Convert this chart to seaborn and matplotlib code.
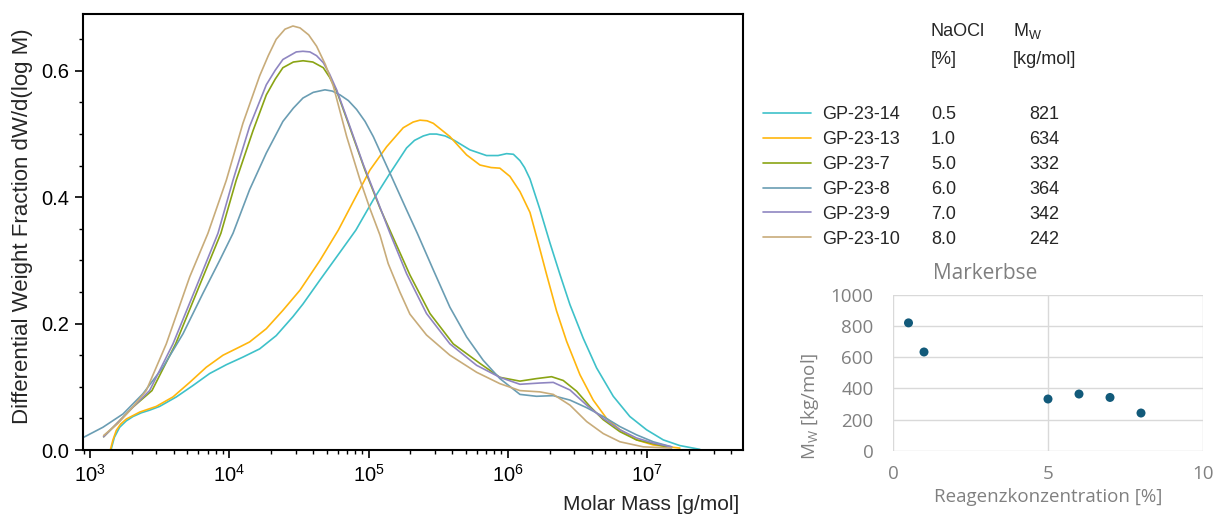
import numpy as np
import pandas as pd
import matplotlib
matplotlib.use("Agg")
import matplotlib.pyplot as plt
import seaborn as sns
from matplotlib.ticker import LogLocator, MultipleLocator, FixedLocator, NullFormatter

# ---------------- data ----------------
samples = ["GP-23-14", "GP-23-13", "GP-23-7", "GP-23-8", "GP-23-9", "GP-23-10"]
naocl_pct = [0.5, 1.0, 5.0, 6.0, 7.0, 8.0]
mw_kg_mol = [821, 634, 332, 364, 342, 242]
colors = ["#3ec1c9", "#ffb60d", "#8aa414", "#6a9db3", "#8f86c1", "#c8ac7a"]

# log10(M [g/mol]) and dW/d(log M)
logm_gp14 = [3.153, 3.175, 3.213, 3.260, 3.309, 3.370, 3.428, 3.500, 3.620, 3.739, 3.859, 3.979,
             4.098, 4.218, 4.337, 4.457, 4.529, 4.651, 4.795, 4.909, 5.034, 5.154, 5.273, 5.330,
             5.393, 5.440, 5.488, 5.550, 5.608, 5.728, 5.847, 5.930, 5.991, 6.040, 6.087, 6.120,
             6.159, 6.230, 6.302, 6.374, 6.446, 6.541, 6.637, 6.757, 6.876, 6.996, 7.116, 7.235,
             7.379]
w_gp14 = [0.002, 0.020, 0.036, 0.046, 0.053, 0.059, 0.063, 0.069, 0.084, 0.102, 0.121, 0.135,
          0.147, 0.160, 0.181, 0.211, 0.231, 0.269, 0.313, 0.348, 0.396, 0.438, 0.478, 0.490,
          0.497, 0.500, 0.500, 0.497, 0.491, 0.475, 0.466, 0.466, 0.469, 0.468, 0.458, 0.447,
          0.429, 0.381, 0.328, 0.278, 0.230, 0.177, 0.130, 0.085, 0.053, 0.032, 0.016, 0.007,
          0.001]

logm_gp13 = [3.146, 3.165, 3.189, 3.220, 3.261, 3.357, 3.476, 3.596, 3.716, 3.835, 3.955, 4.074,
             4.146, 4.266, 4.385, 4.508, 4.651, 4.783, 4.890, 5.010, 5.130, 5.249, 5.320, 5.369,
             5.420, 5.465, 5.584, 5.704, 5.800, 5.880, 5.943, 6.015, 6.087, 6.159, 6.218, 6.278,
             6.350, 6.422, 6.518, 6.613, 6.709, 6.805, 6.924, 7.044, 7.235]
w_gp13 = [0.000, 0.016, 0.031, 0.041, 0.049, 0.060, 0.069, 0.084, 0.107, 0.131, 0.150, 0.163,
          0.171, 0.192, 0.221, 0.253, 0.300, 0.348, 0.393, 0.443, 0.480, 0.510, 0.519, 0.522,
          0.521, 0.517, 0.496, 0.467, 0.451, 0.447, 0.446, 0.433, 0.409, 0.376, 0.328, 0.278,
          0.220, 0.172, 0.119, 0.079, 0.050, 0.032, 0.016, 0.008, 0.003]

logm_gp7 = [3.098, 3.189, 3.309, 3.445, 3.615, 3.782, 3.940, 4.050, 4.170, 4.266, 4.330, 4.385,
            4.460, 4.530, 4.600, 4.675, 4.720, 4.771, 4.866, 4.974, 5.082, 5.177, 5.297, 5.441,
            5.608, 5.800, 5.943, 6.087, 6.206, 6.314, 6.398, 6.494, 6.589, 6.685, 6.805, 6.924,
            7.140]
w_gp7 = [0.021, 0.041, 0.068, 0.094, 0.168, 0.258, 0.343, 0.427, 0.505, 0.562, 0.587, 0.605,
         0.614, 0.616, 0.614, 0.605, 0.590, 0.568, 0.510, 0.443, 0.383, 0.336, 0.277, 0.216,
         0.168, 0.137, 0.115, 0.109, 0.113, 0.116, 0.110, 0.093, 0.069, 0.048, 0.029, 0.016,
         0.005]

logm_gp8 = [2.945, 3.093, 3.237, 3.380, 3.524, 3.668, 3.811, 3.931, 4.027, 4.146, 4.266, 4.385,
            4.460, 4.529, 4.603, 4.687, 4.740, 4.795, 4.855, 4.914, 4.975, 5.034, 5.154, 5.273,
            5.350, 5.465, 5.584, 5.704, 5.823, 5.943, 6.087, 6.206, 6.326, 6.446, 6.566, 6.685,
            6.805, 6.924, 7.044, 7.176]
w_gp8 = [0.019, 0.036, 0.057, 0.089, 0.131, 0.184, 0.248, 0.300, 0.343, 0.412, 0.470, 0.520,
         0.541, 0.557, 0.566, 0.570, 0.568, 0.562, 0.553, 0.539, 0.520, 0.496, 0.438, 0.380,
         0.343, 0.285, 0.226, 0.179, 0.142, 0.113, 0.088, 0.085, 0.086, 0.079, 0.067, 0.053,
         0.037, 0.024, 0.013, 0.005]

logm_gp9 = [3.098, 3.189, 3.309, 3.428, 3.596, 3.763, 3.919, 4.027, 4.146, 4.266, 4.330, 4.385,
            4.481, 4.529, 4.579, 4.627, 4.675, 4.720, 4.771, 4.866, 4.962, 5.058, 5.154, 5.273,
            5.416, 5.584, 5.776, 5.943, 6.087, 6.230, 6.326, 6.446, 6.566, 6.685, 6.805, 6.924,
            7.044, 7.176]
w_gp9 = [0.021, 0.041, 0.068, 0.094, 0.168, 0.258, 0.343, 0.427, 0.512, 0.578, 0.601, 0.618,
         0.630, 0.631, 0.630, 0.624, 0.613, 0.595, 0.570, 0.512, 0.452, 0.398, 0.343, 0.279,
         0.216, 0.168, 0.134, 0.115, 0.104, 0.106, 0.107, 0.095, 0.071, 0.050, 0.032, 0.019,
         0.011, 0.005]

logm_gp10 = [3.098, 3.200, 3.300, 3.404, 3.548, 3.716, 3.847, 3.979, 4.098, 4.218, 4.280, 4.337,
             4.400, 4.457, 4.508, 4.570, 4.627, 4.690, 4.747, 4.843, 4.938, 5.010, 5.082, 5.141,
             5.225, 5.297, 5.416, 5.584, 5.776, 5.943, 6.087, 6.230, 6.326, 6.446, 6.566, 6.685,
             6.805, 6.972, 7.176]
w_gp10 = [0.023, 0.042, 0.066, 0.094, 0.168, 0.274, 0.343, 0.427, 0.517, 0.592, 0.624, 0.650,
          0.666, 0.671, 0.668, 0.657, 0.639, 0.610, 0.576, 0.496, 0.428, 0.382, 0.340, 0.295,
          0.250, 0.215, 0.182, 0.150, 0.123, 0.105, 0.094, 0.092, 0.088, 0.071, 0.045, 0.026,
          0.013, 0.005, 0.003]

curves = {
    "GP-23-14": (logm_gp14, w_gp14),
    "GP-23-13": (logm_gp13, w_gp13),
    "GP-23-7": (logm_gp7, w_gp7),
    "GP-23-8": (logm_gp8, w_gp8),
    "GP-23-9": (logm_gp9, w_gp9),
    "GP-23-10": (logm_gp10, w_gp10),
}

frames = []
for name in samples:
    lm, w = curves[name]
    frames.append(pd.DataFrame({"M": 10 ** np.asarray(lm), "w": w, "sample": name}))
df = pd.concat(frames, ignore_index=True)

# ---------------- style ----------------
sns.set_style("ticks")
plt.rcParams["font.family"] = ["Liberation Sans", "DejaVu Sans"]
plt.rcParams["mathtext.fontset"] = "custom"
plt.rcParams["mathtext.rm"] = "Liberation Sans"
plt.rcParams["mathtext.it"] = "Liberation Sans:italic"

DPI = 100
fig = plt.figure(figsize=(12.15, 5.18), dpi=DPI)
W, H = 1215.0, 518.0

# ---------------- main chart ----------------
ax = fig.add_axes([83 / W, 1 - 450 / H, (743 - 83) / W, (450 - 14) / H])
sns.lineplot(data=df, x="M", y="w", hue="sample", hue_order=samples, palette=colors,
             estimator=None, sort=False, legend=False, linewidth=1.2, ax=ax)
ax.set_xscale("log")
ax.set_xlim(891, 4.88e7)
ax.set_ylim(0, 0.69)
ax.xaxis.set_major_locator(LogLocator(base=10, numticks=12))
ax.xaxis.set_minor_locator(LogLocator(base=10, subs=np.arange(2, 10), numticks=12))
ax.xaxis.set_minor_formatter(NullFormatter())
ax.yaxis.set_major_locator(MultipleLocator(0.2))
ax.yaxis.set_minor_locator(MultipleLocator(0.05))
ax.tick_params(which="both", direction="out", color="black", labelsize=14.5,
               top=False, right=False, labelcolor="black")
ax.tick_params(which="major", length=6, width=1.2, pad=4)
ax.tick_params(which="minor", length=3, width=1.0)
for sp in ax.spines.values():
    sp.set_visible(True)
    sp.set_color("black")
    sp.set_linewidth(1.5)
ax.set_xlabel("Molar Mass [g/mol]", fontsize=15)
ax.xaxis.label.set_horizontalalignment("right")
ax.xaxis.set_label_coords(0.995, -0.104)
ax.set_ylabel("Differential Weight Fraction dW/d(log M)", fontsize=16)
ax.yaxis.set_label_coords(-0.075, 0.514)

# ---------------- legend / table ----------------
handles = ax.get_lines()[:len(samples)]
leg = fig.legend(handles, samples, loc="upper left", bbox_to_anchor=(763 / W, 1 - 106 / H),
                 frameon=False, fontsize=13, handlelength=2.65, handletextpad=0.65,
                 labelspacing=0.44, borderpad=0, borderaxespad=0)

fig.text(931 / W, 1 - 31 / H, "NaOCl", fontsize=13, va="center", ha="left")
fig.text(931 / W, 1 - 60 / H, "[%]", fontsize=13, va="center", ha="left")
fig.text(1013 / W, 1 - 31 / H, r"M$_{\mathdefault{W}}$", fontsize=13, va="center", ha="left")
fig.text(1013 / W, 1 - 60 / H, "[kg/mol]", fontsize=13, va="center", ha="left")

fig.canvas.draw()
renderer = fig.canvas.get_renderer()
for t, pct, mw in zip(leg.get_texts(), naocl_pct, mw_kg_mol):
    bb = t.get_window_extent(renderer)
    yc = (bb.y0 + bb.y1) / 2 / fig.bbox.height
    fig.text(931 / W, yc, f"{pct:.1f}", fontsize=13, va="center", ha="left")
    fig.text(1029 / W, yc, f"{mw:d}", fontsize=13, va="center", ha="left")

# ---------------- inset scatter ----------------
gray = "#808080"
ax2 = fig.add_axes([893 / W, 1 - 450.7 / H, (1203 - 893) / W, (450.7 - 295) / H])
sns.scatterplot(x=naocl_pct, y=mw_kg_mol, color="#125a7a", s=42, edgecolor="none", ax=ax2)
ax2.set_xlim(0, 10)
ax2.set_ylim(0, 1000)
ax2.xaxis.set_major_locator(FixedLocator([0, 5, 10]))
ax2.yaxis.set_major_locator(MultipleLocator(200))
ax2.grid(True, color="#d9d9d9", linewidth=1.0)
ax2.set_axisbelow(True)
for sp in ax2.spines.values():
    sp.set_visible(False)
ax2.tick_params(length=0, labelsize=13.5, labelcolor=gray)
ax2.tick_params(axis="y", pad=14)
ax2.tick_params(axis="x", pad=10)
for lab in ax2.get_xticklabels() + ax2.get_yticklabels():
    lab.set_family("Open Sans")
ax2.set_xlabel("Reagenzkonzentration [%]", fontsize=13.5, color=gray, family="Open Sans", labelpad=4)
ax2.set_ylabel(r"M$_{\mathdefault{W}}$ [kg/mol]", fontsize=13.5, color=gray, family="Open Sans")
ax2.yaxis.set_label_coords(-0.232, 0.287)
ax2.text(0.128, 1.14, "Markerbse", transform=ax2.transAxes, ha="left", va="center",
         fontsize=15, color="#7f7f7f", family="Open Sans")

fig.savefig("out.png", dpi=DPI)
